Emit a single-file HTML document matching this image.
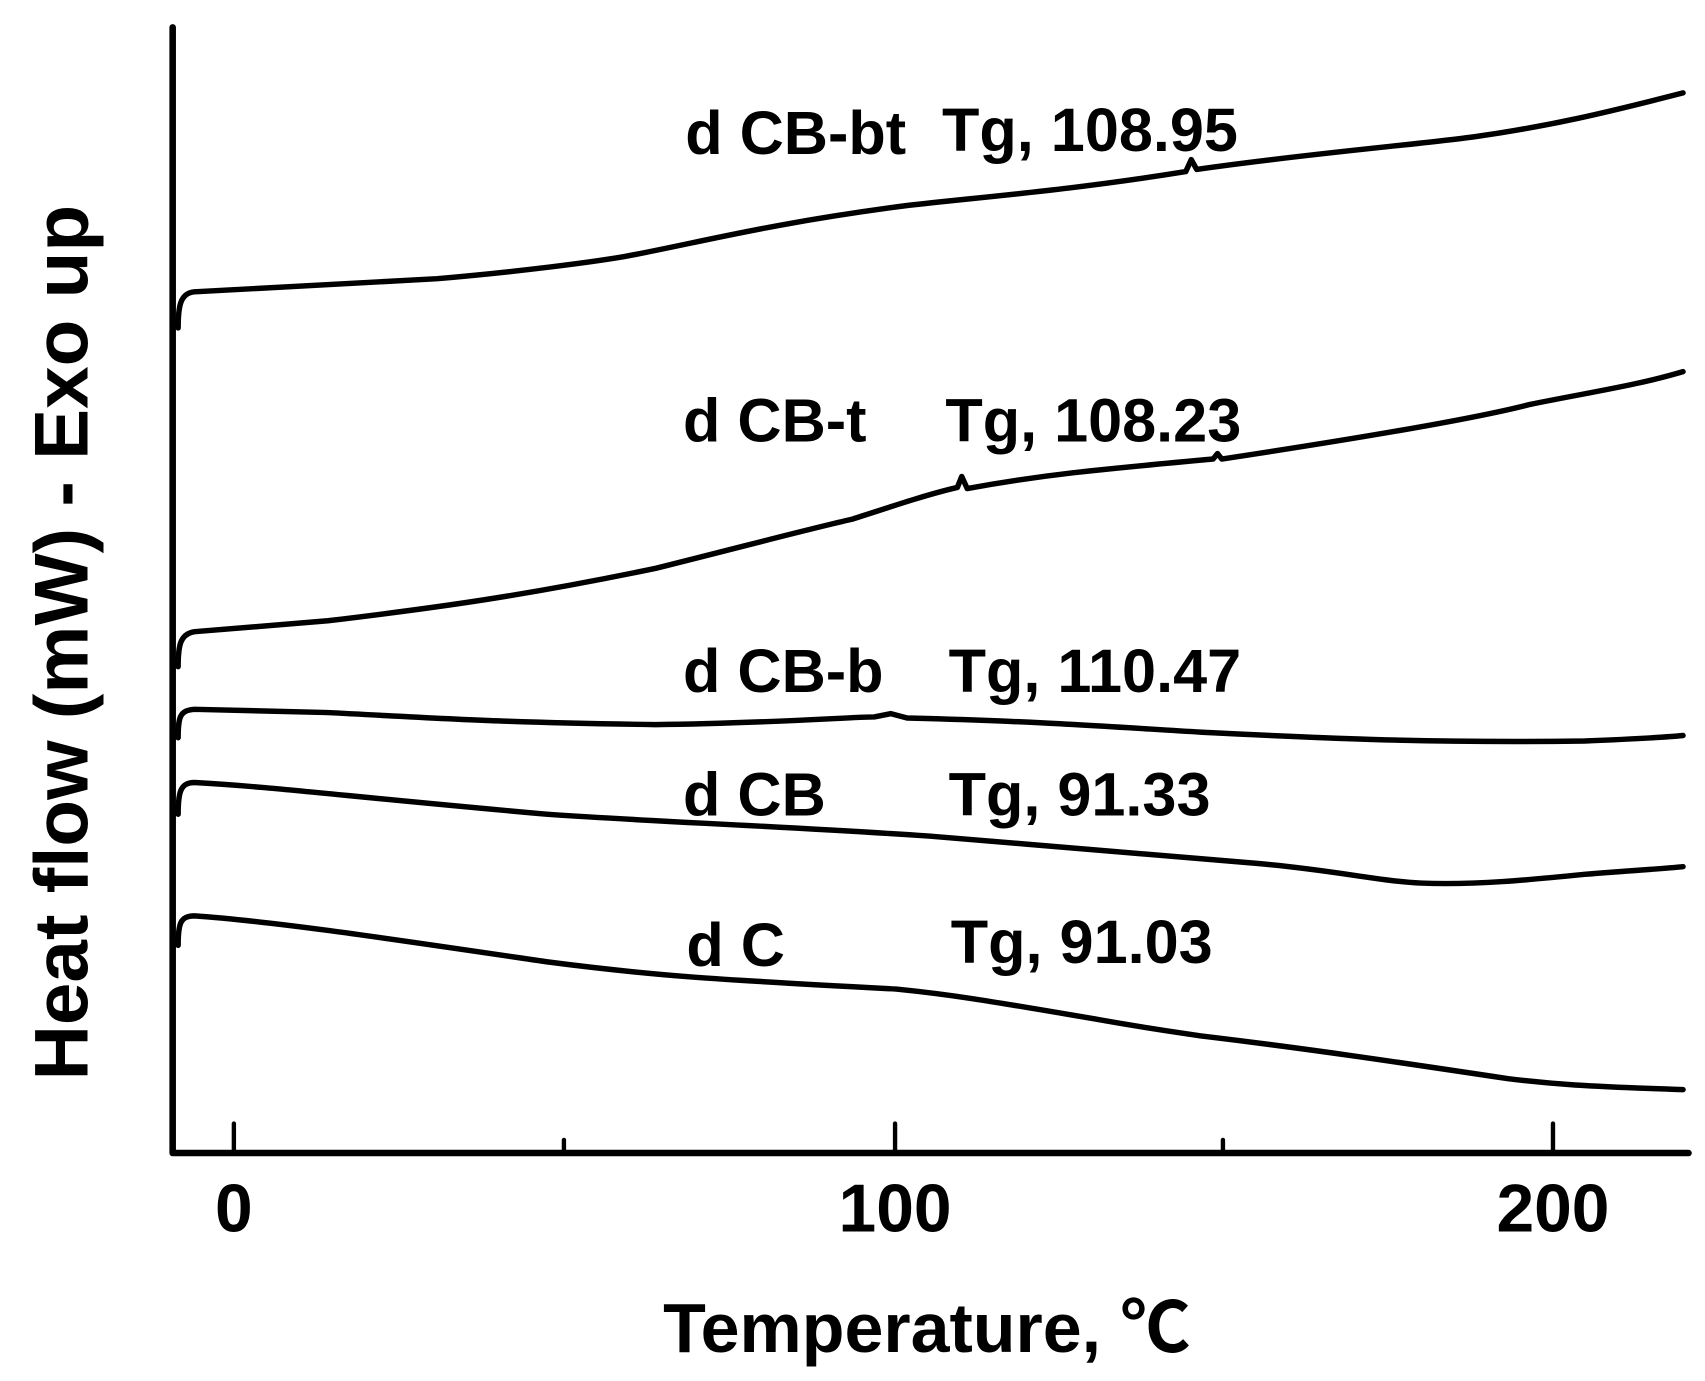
<!DOCTYPE html>
<html><head><meta charset="utf-8"><style>
html,body{margin:0;padding:0;background:#fff;}
svg{display:block;}
text{font-family:"Liberation Sans","Noto Sans CJK SC",sans-serif;font-weight:bold;fill:#000;}
</style></head><body>
<svg width="1705" height="1381" viewBox="0 0 1560.1 1263.6" xmlns="http://www.w3.org/2000/svg">
<g stroke="#000" fill="none" stroke-linecap="round" stroke-linejoin="round">
<path d="M158,25 L158,1055 L1545,1055" stroke-width="6"/>
<path d="M214,1055 V1028 M819,1055 V1028 M1421,1055 V1028 M516,1055 V1043 M1119,1055 V1043" stroke-width="4"/>
<g stroke-width="5">
<path d="M163,300 C163,280 165,268 178,267 L400,255 C480,248 540,240 570,235 C640,222 700,205 830,188 C900,180 980,174 1085,157 L1090,146 L1095,155 C1200,140 1300,132 1350,125 C1420,115 1470,103 1540,85"/>
<path d="M163,610 C163,590 165,580 178,578 L300,568 C400,556 480,545 600,520 C680,500 740,484 780,475 C820,462 850,452 876,446 L880,436 L885,447 C950,435 1000,430 1110,420 L1114,415 L1118,420 C1250,400 1350,383 1400,370 C1460,358 1500,352 1540,340"/>
<path d="M163,675 C163,655 165,650 178,649 L300,652 C400,657 450,661 600,663 C700,662 780,656 800,656 L815,653 L830,657 C950,660 1000,664 1100,670 C1200,675 1300,680 1450,678 C1500,676 1520,675 1540,673"/>
<path d="M163,745 C163,725 165,716 178,716 C250,720 300,727 500,745 C600,752 700,755 850,765 C950,773 1000,778 1150,790 C1220,796 1260,806 1300,808 C1350,810 1400,805 1450,800 C1500,796 1520,795 1540,793"/>
<path d="M163,865 C163,845 165,838 178,838 C250,843 350,858 500,880 C600,893 650,896 820,905 C870,910 900,915 1000,932 C1050,941 1080,945 1100,948 C1200,960 1280,972 1380,987 C1420,992 1450,994 1540,997"/>
</g>
</g>
<g font-size="56">
<text x="627" y="141">d CB-bt</text><text x="862" y="138">Tg, 108.95</text>
<text x="625" y="404">d CB-t</text><text x="865" y="404">Tg, 108.23</text>
<text x="625" y="633">d CB-b</text><text x="868" y="633">Tg, 110.47</text>
<text x="625" y="746">d CB</text><text x="868" y="746">Tg, 91.33</text>
<text x="628" y="884">d C</text><text x="870" y="881">Tg, 91.03</text>
</g>
<g font-size="62" text-anchor="middle">
<text x="214" y="1127">0</text>
<text x="819" y="1127">100</text>
<text x="1421" y="1127">200</text>
</g>
<text x="848" y="1237" font-size="64" text-anchor="middle">Temperature, ℃</text>
<text transform="translate(80,588) rotate(-90)" font-size="70" text-anchor="middle">Heat flow (mW) - Exo up</text>
</svg>
</body></html>
